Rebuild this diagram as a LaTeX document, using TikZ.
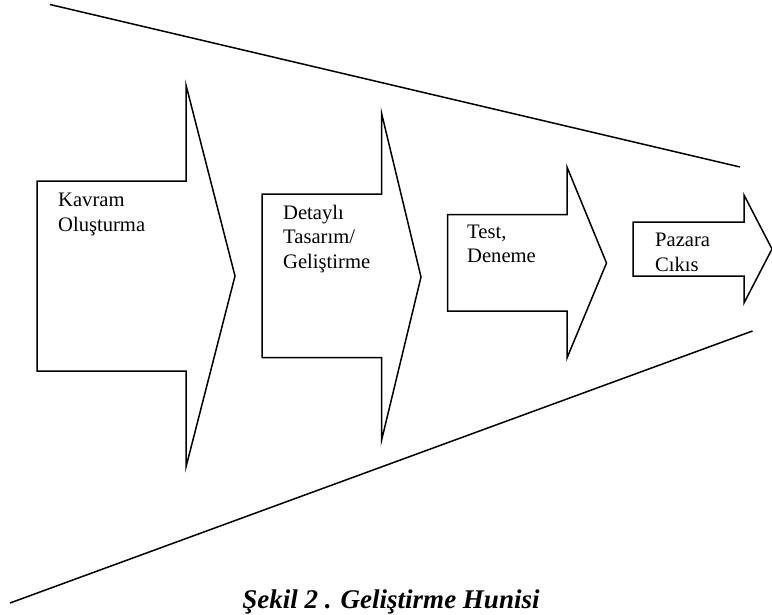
\documentclass[tikz,border=0pt]{standalone}
\usepackage{fontspec}
\setmainfont{Liberation Serif}
\begin{document}
\begin{tikzpicture}[x=1pt,y=-1pt,
  outline/.style={draw=black, line width=1.5pt, line join=miter},
  funnel/.style={draw=black, line width=1.5pt},
  lbl/.style={anchor=base west, align=left, inner sep=0pt, font=\fontsize{20.6}{24.5}\selectfont},
  captionstyle/.style={anchor=base, inner sep=0pt, font=\fontsize{27}{30}\selectfont\bfseries\itshape}]
\useasboundingbox (0,0) rectangle (772,614);
\begin{scope}
\clip (0,0) rectangle (772,614);
% funnel lines
\coordinate (t1) at (50,4.5);
\coordinate (t2) at (740,167);
\coordinate (b1) at (10,603);
\coordinate (b2) at (752.5,331);
\draw[funnel] (t1) -- (t2);
\draw[funnel] (b1) -- (b2);
% arrows
\draw[outline] (37,181) -- (186,181) -- (186,85) -- (235,276) -- (186,467) -- (186,371) -- (37,371) -- cycle;
\draw[outline] (262,194) -- (381.5,194) -- (381.5,113) -- (421,277) -- (381.5,440.5) -- (381.5,357.5) -- (262,357.5) -- cycle;
\draw[outline] (447.5,214.5) -- (567,214.5) -- (567,167) -- (606.5,263) -- (567,358) -- (567,311) -- (447.5,311) -- cycle;
\draw[outline] (633,222) -- (744,222) -- (744,195) -- (772,249) -- (744,303) -- (744,276) -- (633,276) -- cycle;
\end{scope}
% labels (base anchor = baseline of last line)
\node[lbl] (l1) at (58,231) {Kavram\\Oluşturma};
\node[lbl] (l2) at (283,268) {Detaylı\\Tasarım/\\Geliştirme};
\node[lbl] (l3) at (467,262.5) {Test,\\Deneme};
\node[lbl] (l4) at (655,271) {Pazara\\Cıkıs};
\node[captionstyle] (cap) at (391,608) {Şekil 2 . Geliştirme Hunisi};
\end{tikzpicture}
\end{document}
